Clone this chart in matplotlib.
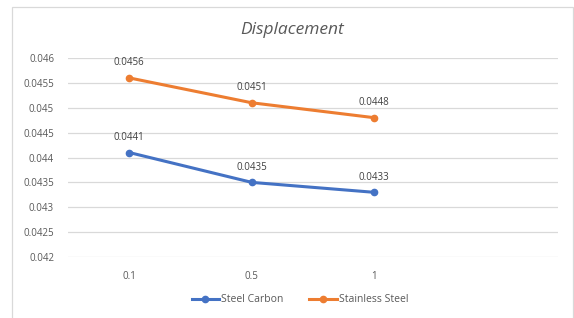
"""Displacement line chart: steel carbon vs stainless steel."""

import matplotlib.pyplot as plt
from matplotlib.patches import Rectangle

categories = ["0.1", "0.5", "1"]
steel_carbon = [0.0441, 0.0435, 0.0433]
stainless_steel = [0.0456, 0.0451, 0.0448]
y_ticks = [0.042, 0.0425, 0.043, 0.0435, 0.044, 0.0445, 0.045, 0.0455, 0.046]
y_tick_labels = ["0.042", "0.0425", "0.043", "0.0435", "0.044", "0.0445", "0.045", "0.0455", "0.046"]

BLUE = "#4472C4"
ORANGE = "#ED7D31"
TEXT = "#595959"
GRID = "#D9D9D9"

W, H = 574, 318
fig = plt.figure(figsize=(W / 100, H / 100), dpi=100)
plt.rcParams["font.family"] = ["Open Sans", "DejaVu Sans"]

# chart border
fig.patches.append(Rectangle((12 / W, -0.05), (573 - 12) / W, 1.05 - 7 / H,
                             transform=fig.transFigure, fill=False,
                             edgecolor="#D9D9D9", linewidth=0.9))

ax = fig.add_axes([68 / W, 1 - 257 / H, (558 - 68) / W, (257 - 58) / H])
x = list(range(len(categories)))

ax.plot(x, steel_carbon, color=BLUE, linewidth=2.2, marker="o", markersize=4.5,
        label="Steel Carbon", zorder=3)
ax.plot(x, stainless_steel, color=ORANGE, linewidth=2.2, marker="o", markersize=4.5,
        label="Stainless Steel", zorder=3)

for xi, v in zip(x, steel_carbon):
    ax.annotate(f"{v:.4f}", (xi, v), xytext=(0, 7), textcoords="offset points",
                ha="center", va="bottom", fontsize=7, color="#404040")
for xi, v in zip(x, stainless_steel):
    ax.annotate(f"{v:.4f}", (xi, v), xytext=(0, 7), textcoords="offset points",
                ha="center", va="bottom", fontsize=7, color="#404040")

ax.set_xlim(-0.5, 3.5)
ax.set_ylim(0.042, 0.046)
ax.set_xticks(x)
ax.set_xticklabels(categories)
ax.set_yticks(y_ticks)
ax.set_yticklabels(y_tick_labels)
ax.tick_params(axis="both", length=0, labelsize=7, labelcolor=TEXT)
ax.tick_params(axis="x", pad=10)
ax.tick_params(axis="y", pad=10)
ax.grid(axis="y", color=GRID, linewidth=0.9)
ax.set_axisbelow(True)
for s in ax.spines.values():
    s.set_visible(False)

fig.text(292 / W, 1 - 30 / H, "Displacement", ha="center", va="center",
         fontsize=12.5, style="italic", color=TEXT)

fig.legend(loc="center", bbox_to_anchor=(300 / W, 1 - 300 / H), ncol=2,
           frameon=False, fontsize=7.5, labelcolor=TEXT, handlelength=2.6,
           handletextpad=0.2, columnspacing=2.5)

fig.savefig("out.png", dpi=100)
